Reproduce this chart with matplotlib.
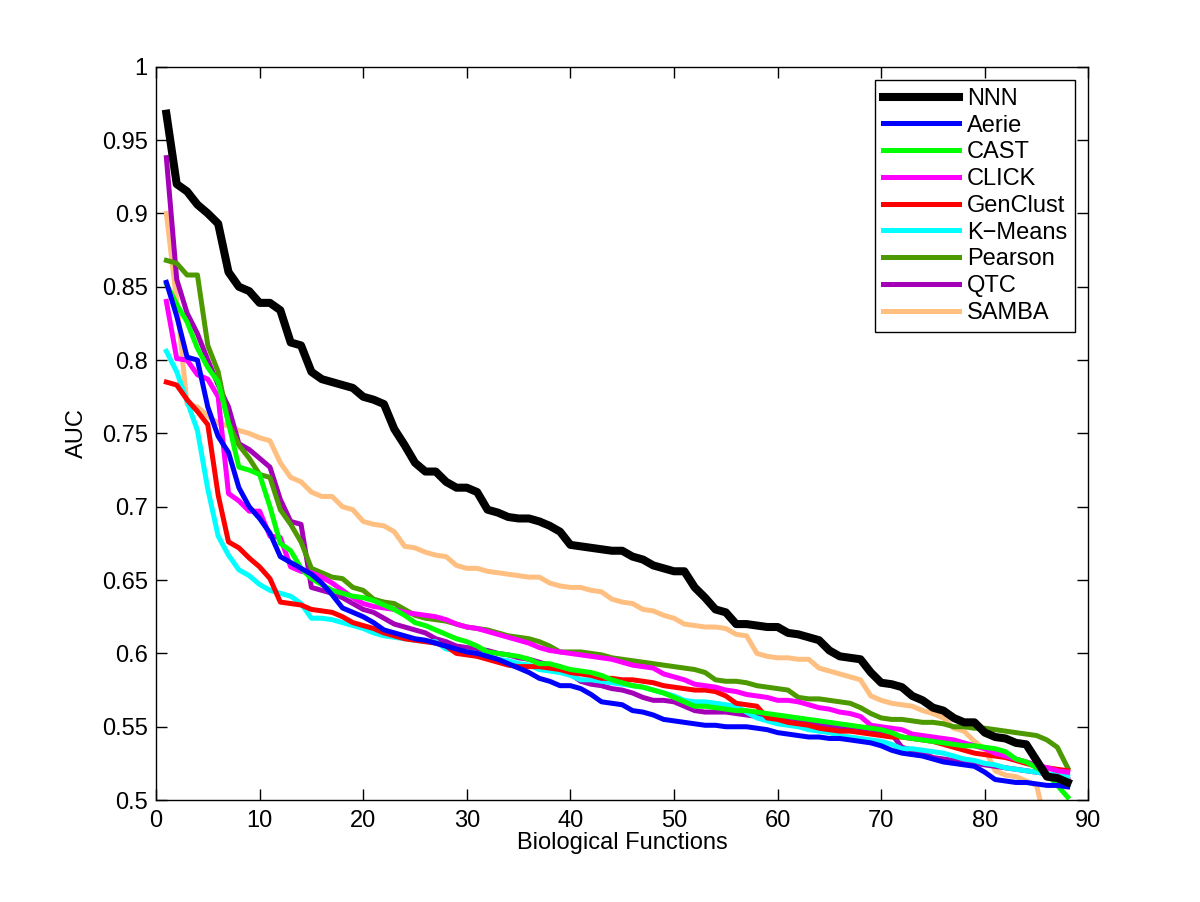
import matplotlib.pyplot as plt
import numpy as np

plt.rcParams['font.family'] = ['Liberation Sans', 'DejaVu Sans']

# AUC per biological function, sorted in decreasing order
nnn = [0.968, 0.920, 0.915, 0.906, 0.900, 0.893, 0.860, 0.850, 0.847, 0.839,
       0.839, 0.834, 0.812, 0.810, 0.792, 0.787, 0.785, 0.783, 0.781, 0.775,
       0.773, 0.770, 0.753, 0.742, 0.730, 0.724, 0.724, 0.717, 0.713, 0.713,
       0.710, 0.698, 0.696, 0.693, 0.692, 0.692, 0.690, 0.687, 0.683, 0.674,
       0.673, 0.672, 0.671, 0.670, 0.670, 0.666, 0.664, 0.660, 0.658, 0.656,
       0.656, 0.645, 0.638, 0.630, 0.628, 0.620, 0.620, 0.619, 0.618, 0.618,
       0.614, 0.613, 0.611, 0.609, 0.602, 0.598, 0.597, 0.596, 0.587, 0.580,
       0.579, 0.577, 0.571, 0.568, 0.563, 0.561, 0.556, 0.553, 0.553, 0.546,
       0.543, 0.542, 0.539, 0.538, 0.527, 0.516, 0.515, 0.512]

aerie = [0.853, 0.830, 0.802, 0.800, 0.768, 0.748, 0.737, 0.713, 0.700, 0.692,
         0.682, 0.666, 0.662, 0.658, 0.654, 0.648, 0.640, 0.631, 0.628, 0.625,
         0.621, 0.616, 0.614, 0.612, 0.610, 0.609, 0.607, 0.605, 0.603, 0.601,
         0.600, 0.598, 0.596, 0.593, 0.590, 0.587, 0.583, 0.581, 0.578, 0.578,
         0.576, 0.572, 0.567, 0.566, 0.565, 0.561, 0.560, 0.558, 0.555, 0.554,
         0.553, 0.552, 0.551, 0.551, 0.550, 0.550, 0.550, 0.549, 0.548, 0.546,
         0.545, 0.544, 0.543, 0.543, 0.542, 0.542, 0.541, 0.540, 0.539, 0.537,
         0.534, 0.532, 0.531, 0.530, 0.528, 0.526, 0.525, 0.524, 0.523, 0.519,
         0.514, 0.513, 0.512, 0.512, 0.511, 0.510, 0.510, 0.509]

cast = [0.852, 0.838, 0.826, 0.808, 0.795, 0.785, 0.757, 0.727, 0.725, 0.722,
        0.700, 0.675, 0.670, 0.658, 0.651, 0.647, 0.643, 0.641, 0.639, 0.638,
        0.636, 0.633, 0.630, 0.626, 0.621, 0.619, 0.616, 0.613, 0.610, 0.608,
        0.605, 0.601, 0.600, 0.599, 0.598, 0.596, 0.593, 0.593, 0.591, 0.589,
        0.588, 0.587, 0.585, 0.582, 0.580, 0.578, 0.577, 0.575, 0.573, 0.570,
        0.567, 0.564, 0.564, 0.563, 0.562, 0.561, 0.561, 0.560, 0.559, 0.558,
        0.557, 0.556, 0.555, 0.554, 0.553, 0.552, 0.551, 0.550, 0.549, 0.548,
        0.546, 0.543, 0.542, 0.541, 0.540, 0.539, 0.538, 0.537, 0.537, 0.536,
        0.535, 0.533, 0.528, 0.526, 0.522, 0.518, 0.510, 0.502]

click = [0.840, 0.801, 0.800, 0.790, 0.787, 0.775, 0.709, 0.704, 0.697, 0.697,
         0.680, 0.679, 0.659, 0.656, 0.655, 0.652, 0.648, 0.643, 0.638, 0.634,
         0.632, 0.631, 0.630, 0.628, 0.627, 0.626, 0.625, 0.623, 0.620, 0.618,
         0.617, 0.615, 0.613, 0.611, 0.609, 0.607, 0.604, 0.602, 0.601, 0.600,
         0.599, 0.598, 0.597, 0.596, 0.594, 0.592, 0.591, 0.590, 0.586, 0.584,
         0.582, 0.579, 0.578, 0.577, 0.575, 0.574, 0.572, 0.571, 0.570, 0.568,
         0.568, 0.567, 0.565, 0.563, 0.562, 0.560, 0.559, 0.557, 0.551, 0.550,
         0.549, 0.548, 0.545, 0.544, 0.543, 0.542, 0.541, 0.539, 0.537, 0.535,
         0.532, 0.530, 0.528, 0.526, 0.524, 0.522, 0.520, 0.519]

genclust = [0.785, 0.783, 0.773, 0.765, 0.756, 0.708, 0.676, 0.672, 0.665, 0.659,
            0.651, 0.635, 0.634, 0.633, 0.630, 0.629, 0.628, 0.625, 0.621, 0.619,
            0.617, 0.614, 0.612, 0.610, 0.609, 0.608, 0.607, 0.605, 0.600, 0.599,
            0.598, 0.596, 0.594, 0.592, 0.591, 0.591, 0.591, 0.590, 0.589, 0.587,
            0.586, 0.585, 0.583, 0.583, 0.582, 0.582, 0.581, 0.580, 0.578, 0.577,
            0.576, 0.575, 0.575, 0.574, 0.571, 0.566, 0.565, 0.564, 0.556, 0.555,
            0.553, 0.552, 0.551, 0.549, 0.548, 0.547, 0.547, 0.546, 0.545, 0.544,
            0.543, 0.543, 0.542, 0.541, 0.540, 0.538, 0.536, 0.534, 0.532, 0.531,
            0.530, 0.529, 0.527, 0.525, 0.523, 0.522, 0.521, 0.520]

kmeans = [0.806, 0.792, 0.772, 0.752, 0.712, 0.680, 0.667, 0.657, 0.653, 0.647,
          0.643, 0.641, 0.639, 0.634, 0.624, 0.624, 0.623, 0.621, 0.619, 0.617,
          0.614, 0.612, 0.611, 0.610, 0.609, 0.608, 0.608, 0.603, 0.602, 0.601,
          0.600, 0.598, 0.596, 0.595, 0.593, 0.592, 0.589, 0.588, 0.587, 0.585,
          0.582, 0.582, 0.581, 0.580, 0.579, 0.578, 0.577, 0.575, 0.573, 0.571,
          0.568, 0.567, 0.567, 0.566, 0.565, 0.564, 0.560, 0.556, 0.554, 0.552,
          0.551, 0.550, 0.548, 0.547, 0.546, 0.544, 0.543, 0.542, 0.541, 0.540,
          0.538, 0.535, 0.535, 0.534, 0.533, 0.532, 0.530, 0.528, 0.527, 0.525,
          0.524, 0.522, 0.521, 0.520, 0.519, 0.518, 0.517, 0.516]

pearson = [0.868, 0.866, 0.858, 0.858, 0.810, 0.792, 0.757, 0.742, 0.733, 0.722,
           0.720, 0.698, 0.688, 0.676, 0.658, 0.655, 0.652, 0.651, 0.645, 0.643,
           0.637, 0.635, 0.634, 0.630, 0.626, 0.624, 0.623, 0.622, 0.620, 0.618,
           0.617, 0.616, 0.614, 0.612, 0.611, 0.610, 0.608, 0.605, 0.601, 0.601,
           0.601, 0.600, 0.599, 0.597, 0.596, 0.595, 0.594, 0.593, 0.592, 0.591,
           0.590, 0.589, 0.587, 0.582, 0.581, 0.581, 0.580, 0.578, 0.577, 0.576,
           0.575, 0.570, 0.569, 0.569, 0.568, 0.567, 0.566, 0.563, 0.559, 0.556,
           0.555, 0.555, 0.554, 0.553, 0.553, 0.552, 0.550, 0.550, 0.549, 0.549,
           0.548, 0.547, 0.546, 0.545, 0.544, 0.541, 0.536, 0.522]

qtc = [0.938, 0.855, 0.832, 0.818, 0.800, 0.783, 0.768, 0.743, 0.739, 0.733,
       0.727, 0.705, 0.690, 0.688, 0.645, 0.643, 0.641, 0.638, 0.634, 0.630,
       0.628, 0.624, 0.620, 0.618, 0.616, 0.614, 0.610, 0.608, 0.605, 0.604,
       0.603, 0.602, 0.600, 0.599, 0.597, 0.596, 0.594, 0.592, 0.591, 0.586,
       0.581, 0.579, 0.578, 0.576, 0.575, 0.573, 0.570, 0.568, 0.568, 0.567,
       0.564, 0.561, 0.560, 0.560, 0.560, 0.559, 0.558, 0.557, 0.556, 0.556,
       0.555, 0.555, 0.553, 0.552, 0.551, 0.550, 0.549, 0.548, 0.547, 0.546,
       0.545, 0.536, 0.534, 0.532, 0.529, 0.528, 0.527, 0.526, 0.525, 0.524,
       0.523, 0.522, 0.521, 0.520, 0.519, 0.518, 0.516, 0.514]

samba = [0.900, 0.840, 0.770, 0.768, 0.762, 0.757, 0.755, 0.752, 0.750, 0.747,
         0.745, 0.730, 0.720, 0.717, 0.710, 0.707, 0.707, 0.700, 0.698, 0.690,
         0.688, 0.687, 0.683, 0.673, 0.672, 0.669, 0.667, 0.666, 0.660, 0.658,
         0.658, 0.656, 0.655, 0.654, 0.653, 0.652, 0.652, 0.648, 0.646, 0.645,
         0.645, 0.643, 0.642, 0.637, 0.635, 0.634, 0.630, 0.629, 0.626, 0.624,
         0.620, 0.619, 0.618, 0.618, 0.617, 0.613, 0.612, 0.600, 0.598, 0.597,
         0.597, 0.596, 0.596, 0.590, 0.588, 0.586, 0.584, 0.582, 0.571, 0.568,
         0.566, 0.565, 0.564, 0.561, 0.559, 0.556, 0.549, 0.547, 0.540, 0.535,
         0.520, 0.517, 0.516, 0.513, 0.510, 0.480]

names = ['NNN', 'Aerie', 'CAST', 'CLICK', 'GenClust', 'K\u2212Means', 'Pearson', 'QTC', 'SAMBA']
series = [nnn, aerie, cast, click, genclust, kmeans, pearson, qtc, samba]
colors = ['#000000', '#0000ff', '#00ff00', '#ff00ff', '#ff0000', '#00ffff',
          '#4c9900', '#a300b8', '#ffbf80']

fig = plt.figure(figsize=(12, 9.02), dpi=100)
ax = fig.add_axes([0.13, 0.113, 0.777, 0.813])

# draw back to front so NNN ends on top
for name, vals, col in reversed(list(zip(names, series, colors))):
    x = np.arange(1, len(vals) + 1)
    lw = 5.8 if name == 'NNN' else 3.6
    ax.plot(x, vals, color=col, linewidth=lw, label=name)

ax.set_xlim(0, 90)
ax.set_ylim(0.5, 1)
ax.set_xticks(np.arange(0, 91, 10))
ax.set_yticks(np.arange(0.5, 1.001, 0.05))
ax.set_yticklabels(['0.5', '0.55', '0.6', '0.65', '0.7', '0.75', '0.8', '0.85', '0.9', '0.95', '1'])
ax.tick_params(direction='in', length=8, width=1, top=True, right=True, labelsize=17)
ax.tick_params(axis='x', pad=7)
ax.tick_params(axis='y', pad=6)
for s in ax.spines.values():
    s.set_linewidth(1)
ax.set_xlabel('Biological Functions', fontsize=17, labelpad=0)
ax.set_ylabel('AUC', fontsize=17, labelpad=10)

handles, labels = ax.get_legend_handles_labels()
leg = ax.legend(handles[::-1], labels[::-1], loc='upper right', fontsize=17,
                fancybox=False, framealpha=1, edgecolor='black',
                handlelength=3.2, borderaxespad=0.55, labelspacing=0.2,
                handletextpad=0.35, borderpad=0.35)
leg.get_frame().set_linewidth(1)

fig.savefig('out.png', dpi=100, facecolor='white')
